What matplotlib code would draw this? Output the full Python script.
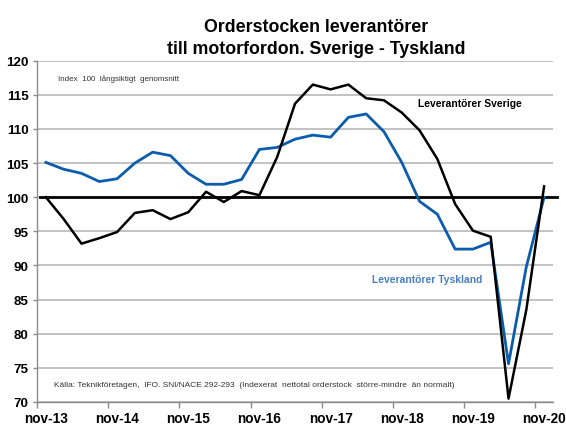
import matplotlib
matplotlib.use("Agg")
import matplotlib.pyplot as plt

plt.rcParams['font.family'] = ['Liberation Sans', 'DejaVu Sans']

quarters = list(range(29))
tick_labels = ["nov-13", "nov-14", "nov-15", "nov-16", "nov-17", "nov-18", "nov-19", "nov-20"]

sverige = [100.0, 96.8, 93.2, 94.0, 94.9, 97.7, 98.1, 96.8, 97.8, 100.8,
           99.3, 100.9, 100.3, 105.9, 113.7, 116.5, 115.8, 116.5, 114.5, 114.2,
           112.4, 109.8, 105.6, 99.0, 95.1, 94.2, 70.5, 83.5, 101.6]
tyskland = [105.1, 104.1, 103.5, 102.3, 102.7, 105.0, 106.6, 106.1, 103.5, 101.9,
            101.9, 102.6, 107.0, 107.3, 108.5, 109.1, 108.8, 111.7, 112.2, 109.6,
            105.1, 99.4, 97.5, 92.4, 92.4, 93.4, 75.6, 89.8, 100.0]
baseline = 100

W, H = 566, 427
fig = plt.figure(figsize=(W / 100, H / 100), dpi=100)
ax = fig.add_axes([37 / W, 1 - 403 / H, (553 - 37) / W, (403 - 61.7) / H])

ax.set_xlim(-0.5, 28.5)
ax.set_ylim(70, 120)
ax.set_yticks(range(70, 121, 5))
ax.yaxis.grid(True, color='#bdbdbd', linewidth=1.3)
ax.set_axisbelow(True)

ax.plot(quarters, tyskland, color='#0b5cad', linewidth=2.0, zorder=3)
ax.plot(quarters, sverige, color='black', linewidth=1.8, zorder=4)
ax.plot([-0.35, 28.7], [baseline, baseline], color='black', linewidth=2.0,
        clip_on=False, zorder=2)

# x axis: ticks at category boundaries, labels at category centres
ax.set_xticks([k - 0.5 for k in range(0, 29, 4)])
ax.set_xticklabels([])
ax.set_xticks(list(range(0, 29, 4)), minor=True)
ax.set_xticklabels(tick_labels, minor=True, fontsize=9.8, fontweight='bold')
ax.tick_params(axis='x', which='major', direction='out', length=4, color='#8c8c8c', width=1)
ax.tick_params(axis='x', which='minor', length=0, pad=6.5)
ax.tick_params(axis='y', direction='out', length=3, color='#8c8c8c', width=1, pad=3)
for lbl in ax.get_yticklabels():
    lbl.set_fontweight('bold')
    lbl.set_fontsize(9.6)

for s in ['top', 'right']:
    ax.spines[s].set_visible(False)
for s in ['left', 'bottom']:
    ax.spines[s].set_color('#8c8c8c')
    ax.spines[s].set_linewidth(1)

fig.text(316 / W, 1 - 31.8 / H, "Orderstocken leverantörer", ha='center', va='baseline',
         fontsize=12.8, fontweight='bold')
fig.text(316 / W, 1 - 54.2 / H, "till motorfordon. Sverige - Tyskland", ha='center', va='baseline',
         fontsize=12.8, fontweight='bold')

fig.text(58 / W, 1 - 79.3 / H, "Index  100  långsiktigt  genomsnitt", ha='left', va='center',
         fontsize=5.8, color='#333333')
fig.text(54 / W, 1 - 386 / H,
         "Källa: Teknikföretagen,  IFO. SNI/NACE 292-293  (Indexerat  nettotal orderstock  större-mindre  än normalt)",
         ha='left', va='center', fontsize=6.05, color='#333333')
fig.text(417.7 / W, 1 - 104.3 / H, "Leverantörer Sverige", ha='left', va='center',
         fontsize=7.4, fontweight='bold', color='black')
fig.text(372 / W, 1 - 280 / H, "Leverantörer Tyskland", ha='left', va='center',
         fontsize=7.4, fontweight='bold', color='#4a7ec0')

fig.savefig("out.png", dpi=100)
